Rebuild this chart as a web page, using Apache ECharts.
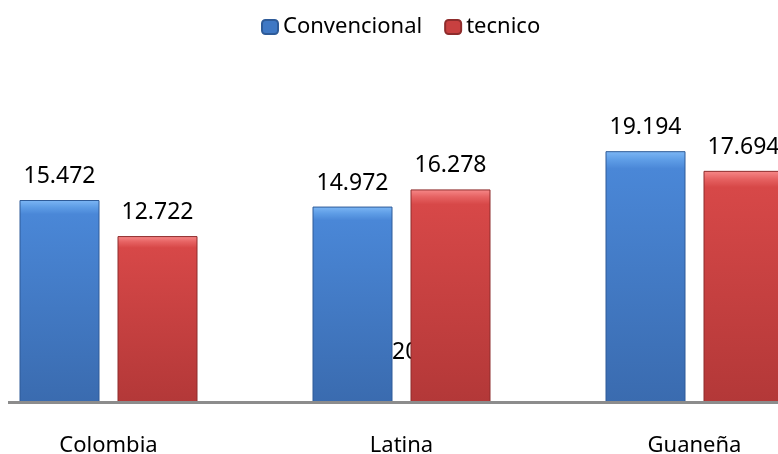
<!DOCTYPE html>
<html>
<head>
<meta charset="utf-8">
<script src="https://cdn.jsdelivr.net/npm/echarts@6/dist/echarts.min.js"></script>
<style>html,body{margin:0;padding:0;background:#fff;}#c{width:778px;height:454px;}</style>
</head>
<body>
<div id="c"></div>
<script>
const categories = ['Colombia', 'Latina', 'Guaneña'];
const seriesNames = ['Convencional', 'tecnico'];
const convencional = [15.472, 14.972, 19.194];
const tecnico = [12.722, 16.278, 17.694];
const hiddenText = '2016';

const FONT = 'Noto Sans';
const blueFill = new echarts.graphic.LinearGradient(0, 0, 0, 1, [
  {offset: 0, color: '#7DB7F5'}, {offset: 0.035, color: '#5E9DE6'},
  {offset: 0.07, color: '#4A87D7'}, {offset: 1, color: '#3A6BAF'}]);
const redFill = new echarts.graphic.LinearGradient(0, 0, 0, 1, [
  {offset: 0, color: '#F78A8A'}, {offset: 0.035, color: '#E66262'},
  {offset: 0.07, color: '#D74848'}, {offset: 1, color: '#B33838'}]);

const chart = echarts.init(document.getElementById('c'));
const labelCfg = {show: true, position: 'top', distance: 12, color: '#000', fontSize: 23, fontFamily: FONT,
  formatter: p => p.value.toFixed(3)};
chart.setOption({
  animation: false,
  legend: {
    left: 256, top: 11, itemWidth: 16, itemHeight: 14, itemGap: 22,
    textStyle: {fontFamily: FONT, fontSize: 22, color: '#000'},
    data: [{name: seriesNames[0], itemStyle: {color: '#3F78C4'}}, {name: seriesNames[1], itemStyle: {color: '#C84040'}}]
  },
  grid: {left: -38, width: 879, top: 75, bottom: 51, containLabel: false, outerBoundsMode: 'none'},
  xAxis: {
    type: 'category', data: categories,
    axisLine: {show: false}, axisTick: {show: false},
    axisLabel: {fontFamily: FONT, fontSize: 22, color: '#000', margin: 32}
  },
  yAxis: {type: 'value', min: 0, max: 25, show: false, splitLine: {show: false}},
  graphic: [
    {type: 'text', left: 392, top: 341, z: 0, style: {text: hiddenText, fontFamily: FONT, fontSize: 23, fill: '#000'}},
    {type: 'rect', left: 8, top: 401, z: 10, shape: {width: 770, height: 3}, style: {fill: '#8C8C8C'}}
  ],
  series: [
    {name: seriesNames[0], type: 'bar', data: convencional, barWidth: 80, barGap: '22.5%',
     itemStyle: {color: blueFill, borderColor: '#2E5B98', borderWidth: 1}, label: labelCfg},
    {name: seriesNames[1], type: 'bar', data: tecnico, barWidth: 80,
     itemStyle: {color: redFill, borderColor: '#8E2C2C', borderWidth: 1}, label: labelCfg}
  ]
});
</script>
</body>
</html>
